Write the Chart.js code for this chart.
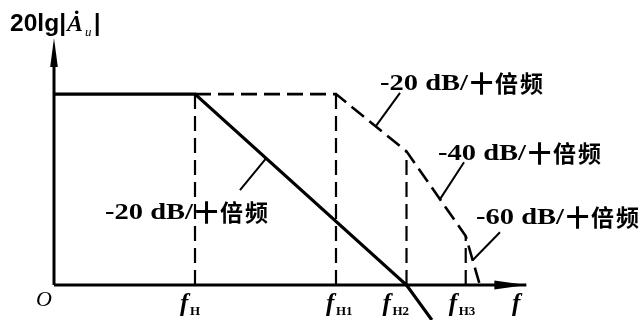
<!DOCTYPE html>
<html><head><meta charset="utf-8">
<script src="https://cdn.jsdelivr.net/npm/chart.js@4/dist/chart.umd.min.js"></script>
<style>html,body{margin:0;padding:0;background:#fff;overflow:hidden}canvas{display:block}</style>
</head><body>
<canvas id="c" width="641" height="320"></canvas>
<script>
// ---- data (x in decades of frequency, y in dB) ----
const freqSubs   = ['H', 'H1', 'H2', 'H3'];
const freqPos    = [1, 2, 2.5, 2.92];
const cornerGain = [30, 30, 21, 7.7];
const overallX   = [0, 1, 2.5, 2.68];
const overallY   = [30, 30, 0, -5.5];
const stageX     = [1, 2, 2.5, 2.92, 3.02];
const stageY     = [30, 30, 21, 7.7, 0];
const slopeTexts = ['-20 dB/十倍频', '-40 dB/十倍频', '-60 dB/十倍频', '-20 dB/十倍频'];
const leaderFromX = [2.454, 2.908, 3.163, 1.319];
const leaderFromY = [30.2, 19.3, 8.3, 14.9];
const leaderToX   = [2.284, 2.738, 2.969, 1.504];
const leaderToY   = [25.0, 13.5, 3.9, 19.9];
const axisXEnd = 3.35, axisYEnd = 38.5;
const xMin = 0, xMax = 3.5, yMin = -5.5, yMax = 38.5;

// ---- layout / style (not data) ----
const slopeLabelPx = [[380, 90], [438, 160], [476, 224], [105, 219]];
const tickLabelOffset = [-17, -12, -26, -19];

const pts = (xs, ys) => xs.map((x, i) => ({x, y: ys[i]}));
const base = {borderColor: '#000', pointRadius: 0, fill: false, tension: 0, clip: false};
const datasets = [];
datasets.push(Object.assign({}, base, {data: pts([0, axisXEnd], [0, 0]), borderWidth: 3}));
datasets.push(Object.assign({}, base, {data: pts([0, 0], [0, axisYEnd - 2]), borderWidth: 3}));
datasets.push(Object.assign({}, base, {data: pts(overallX, overallY), borderWidth: 3.2}));
datasets.push(Object.assign({}, base, {data: pts(stageX, stageY), borderWidth: 2.6, borderDash: [16, 7]}));
freqPos.forEach((f, i) => {
  datasets.push(Object.assign({}, base, {data: pts([f, f], [0, cornerGain[i]]), borderWidth: 2.2, borderDash: [15, 7]}));
});
leaderFromX.forEach((x, i) => {
  datasets.push(Object.assign({}, base, {data: pts([x, leaderToX[i]], [leaderFromY[i], leaderToY[i]]), borderWidth: 2}));
});

function stretch(ctx, text, x, y, w) {
  const m = ctx.measureText(text).width;
  ctx.save(); ctx.translate(x, y); ctx.scale(w / m, 1); ctx.fillText(text, 0, 0); ctx.restore();
}

const decor = {
  id: 'decor',
  beforeDraw(chart) {
    const c = chart.ctx; c.save(); c.fillStyle = '#fff'; c.fillRect(0, 0, chart.width, chart.height); c.restore();
  },
  afterDatasetsDraw(chart) {
    const ctx = chart.ctx, xs = chart.scales.x, ys = chart.scales.y;
    const X = v => xs.getPixelForValue(v), Y = v => ys.getPixelForValue(v);
    ctx.save();
    ctx.fillStyle = '#000';
    // arrows
    const ox = X(0), oy = Y(0);
    const ty = Y(axisYEnd);
    ctx.beginPath(); ctx.moveTo(ox, ty - 2); ctx.lineTo(ox + 3.8, ty + 27); ctx.lineTo(ox - 3.8, ty + 27); ctx.closePath(); ctx.fill();
    const tx = X(axisXEnd);
    ctx.beginPath(); ctx.moveTo(tx, oy); ctx.lineTo(tx - 32, oy - 4.5); ctx.lineTo(tx - 32, oy + 4.5); ctx.closePath(); ctx.fill();

    // y-axis title 20lg|Ȧu|
    ctx.textBaseline = 'alphabetic'; ctx.textAlign = 'left';
    ctx.font = 'bold 23px "Liberation Sans"';
    stretch(ctx, '20lg|', 10, 31, 56);
    ctx.font = 'bold italic 24px "Liberation Serif"';
    ctx.fillText('Ȧ', 67, 31);
    ctx.font = 'italic 13px "Liberation Serif"';
    ctx.fillText('u', 85, 36);
    ctx.font = 'bold 23px "Liberation Sans"';
    ctx.fillText('|', 94, 31);

    // origin
    ctx.font = 'italic 22px "Liberation Serif"';
    ctx.textAlign = 'center'; ctx.textBaseline = 'middle';
    ctx.fillText('O', 44, 300);

    // frequency tick labels
    ctx.textAlign = 'left'; ctx.textBaseline = 'alphabetic';
    freqPos.forEach((f, i) => {
      const sx = X(f) + tickLabelOffset[i];
      ctx.font = 'bold italic 25px "Liberation Serif"';
      ctx.fillText('f', sx + 2, 311);
      ctx.font = 'bold 13px "Liberation Serif"';
      ctx.fillText(freqSubs[i], sx + 12, 315);
    });
    ctx.font = 'bold italic 25px "Liberation Serif"';
    ctx.fillText('f', 512, 311);

    // slope labels
    slopeTexts.forEach((t, i) => {
      const [px, py] = slopeLabelPx[i];
      const k = t.indexOf('/') + 1;
      ctx.font = 'bold 24px "Liberation Serif"';
      stretch(ctx, t.slice(0, k), px, py, 88);
      ctx.font = 'bold 23px "Noto Sans CJK SC"';
      ctx.letterSpacing = '2px';
      ctx.fillText(t.slice(k), px + 90, py + 2);
      ctx.letterSpacing = '0px';
    });
    ctx.restore();
  }
};

new Chart(document.getElementById('c'), {
  type: 'line',
  data: {datasets},
  options: {
    responsive: false, animation: false, events: [],
    layout: {padding: {left: 54, right: 93.5, top: 40, bottom: 0}},
    plugins: {legend: {display: false}, tooltip: {enabled: false}},
    scales: {
      x: {type: 'linear', min: xMin, max: xMax, display: false},
      y: {type: 'linear', min: yMin, max: yMax, display: false}
    }
  },
  plugins: [decor]
});
</script>
</body></html>
